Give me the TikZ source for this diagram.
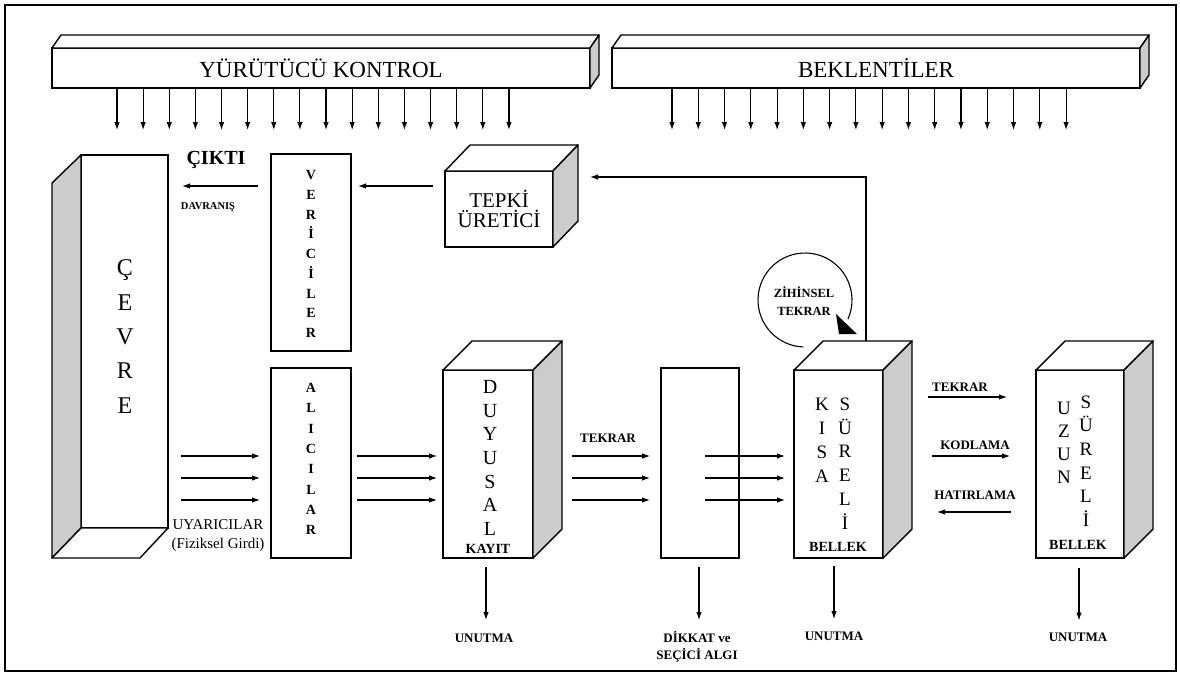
\documentclass[tikz,border=0pt]{standalone}
\usepackage{fontspec}
\setmainfont{Liberation Serif}
\usetikzlibrary{arrows.meta,calc}
\begin{document}
\begin{tikzpicture}[x=1pt,y=-1pt,>={Latex[length=8pt,width=5.5pt]},
  kutu/.style={draw,line width=1.4pt,inner sep=0pt,outer sep=0pt},
  yan/.style={draw,line width=1.4pt,fill=gray!40,line join=round},
  ust/.style={draw,line width=1.4pt,fill=white,line join=round},
  ok/.style={->,line width=1.1pt},
  etiket/.style={font=\bfseries\fontsize{13}{17}\selectfont,inner sep=0pt,align=center},
  harf/.style={align=center,inner sep=0pt}]
\useasboundingbox (0,0) rectangle (1180,675);
\draw[line width=1.6pt] (5,5) rectangle (1176,671);
% ust cubuklar
\node[kutu,minimum width=538pt,minimum height=40pt,font=\fontsize{23}{26}\selectfont] (yk) at (321,68) {YÜRÜTÜCÜ KONTROL};
\node[kutu,minimum width=528pt,minimum height=40pt,font=\fontsize{23}{26}\selectfont] (bek) at (876,68) {BEKLENTİLER};
\foreach \b/\w in {yk/538,bek/528}{
  \draw[ust] (\b.north west) -- ++(9,-13) -- ++(\w,0) -- (\b.north east) -- cycle;
  \draw[yan] (\b.north east) -- ++(9,-13) -- ++(0,40) -- (\b.south east) -- cycle;
}
\foreach \i in {0,...,15}{
  \draw[ok] (yk.south west) ++(65+26.13*\i,0) -- ++(0,42);
  \draw[ok] (bek.south west) ++(60+26.27*\i,0) -- ++(0,42);
}
% cevre
\node[kutu,minimum width=87pt,minimum height=373pt] (cevre) at (124.5,341.5) {};
\draw[yan] (cevre.north west) -- ++(-29,28) -- ++(0,375) -- (cevre.south west) -- cycle;
\draw[ust] (cevre.south west) -- ++(-29,30) -- ++(88,0) -- (cevre.south east) -- cycle;
\node[harf,font=\fontsize{24}{34.3}\selectfont] (cevretxt) at (125,336.5) {Ç\\E\\V\\R\\E};
% vericiler, alicilar
\node[kutu,minimum width=80pt,minimum height=197pt] (veri) at (311,252.5) {};
\node[harf,font=\bfseries\fontsize{14}{19.75}\selectfont] (veritxt) at (311,254) {V\\E\\R\\İ\\C\\İ\\L\\E\\R};
\node[kutu,minimum width=80pt,minimum height=190pt] (alici) at (311,463) {};
\node[harf,font=\bfseries\fontsize{14}{20.3}\selectfont] (alicitxt) at (311,459) {A\\L\\I\\C\\I\\L\\A\\R};
% tepki uretici
\node[kutu,minimum width=108pt,minimum height=76pt,align=center,font=\fontsize{21}{20}\selectfont] (tepki) at (499,209) {TEPKİ\\ÜRETİCİ};
\draw[ust] (tepki.north west) -- ++(25,-26) -- ++(108,0) -- (tepki.north east) -- cycle;
\draw[yan] (tepki.north east) -- ++(25,-26) -- ++(0,76) -- (tepki.south east) -- cycle;
% bellek kutulari
\node[kutu,minimum width=90pt,minimum height=188pt] (duyu) at (488,464) {};
\node[kutu,minimum width=78pt,minimum height=190pt] (dikkat) at (700,463) {};
\node[kutu,minimum width=89pt,minimum height=188pt] (kisa) at (838.5,464) {};
\node[kutu,minimum width=88pt,minimum height=188pt] (uzun) at (1080,464) {};
\foreach \b/\w in {duyu/90,kisa/89,uzun/88}{
  \draw[ust] (\b.north west) -- ++(29,-29) -- ++(\w,0) -- (\b.north east) -- cycle;
  \draw[yan] (\b.north east) -- ++(29,-29) -- ++(0,188) -- (\b.south east) -- cycle;
}
\node[harf,font=\fontsize{20}{23.7}\selectfont] (duyutxt) at (490,458) {D\\U\\Y\\U\\S\\A\\L};
\node[etiket,font=\bfseries\fontsize{14}{16}\selectfont] (kayit) at (488,549) {KAYIT};
\node[harf,font=\fontsize{19}{24}\selectfont] (kisatxt) at (822,440) {K\\I\\S\\A};
\node[harf,font=\fontsize{19}{23.8}\selectfont] (suretxt) at (845,463.5) {S\\Ü\\R\\E\\L\\İ};
\node[etiket,font=\bfseries\fontsize{14}{16}\selectfont] (bellek1) at (838,547) {BELLEK};
\node[harf,font=\fontsize{19}{23}\selectfont] (uzuntxt) at (1064,442.5) {U\\Z\\U\\N};
\node[harf,font=\fontsize{19}{23.6}\selectfont] (sure2txt) at (1086,461) {S\\Ü\\R\\E\\L\\İ};
\node[etiket,font=\bfseries\fontsize{14}{16}\selectfont] (bellek2) at (1078,545) {BELLEK};
% cikti
\node[font=\bfseries\fontsize{20}{20}\selectfont,inner sep=0pt] (cikti) at (216,160) {ÇIKTI};
\node[etiket,font=\bfseries\fontsize{10.5}{12}\selectfont] (davr) at (208,207) {DAVRANIŞ};
\draw[ok] ($(veri.west|-0,186)+(-13,0)$) -- ($(cevre.east|-0,186)+(14,0)$);
\draw[ok] ($(tepki.west|-0,186)+(-12,0)$) -- ($(veri.east|-0,186)+(7,0)$);
% girdi oklari
\node[harf,font=\fontsize{15}{19}\selectfont] (uyar) at (218,536) {UYARICILAR\\(Fiziksel Girdi)};
\node[etiket] (tekr1) at (608,438) {TEKRAR};
\foreach \y in {456,478,500}{
  \draw[ok] ($(cevre.east|-0,\y)+(13,0)$) -- ($(alici.west|-0,\y)+(-11,0)$);
  \draw[ok] ($(alici.east|-0,\y)+(6,0)$) -- ($(duyu.west|-0,\y)+(-6,0)$);
  \draw[ok] ($(duyu.east|-0,\y)+(39,0)$) -- ($(dikkat.west|-0,\y)+(-11,0)$);
  \draw[ok] ($(dikkat.west|-0,\y)+(44,0)$) -- ($(kisa.west|-0,\y)+(-9,0)$);
}
% kisa - uzun
\node[etiket] (tekr3) at (960,387) {TEKRAR};
\node[etiket] (kodl) at (975,445) {KODLAMA};
\node[etiket] (hatir) at (975,495) {HATIRLAMA};
\draw[ok] ($(kisa.east|-0,397)+(45,0)$) -- ($(uzun.west|-0,397)+(-29,0)$);
\draw[ok] ($(kisa.east|-0,456)+(49,0)$) -- ($(uzun.west|-0,456)+(-26,0)$);
\draw[ok] ($(uzun.west|-0,512)+(-25,0)$) -- ($(kisa.east|-0,512)+(54,0)$);
% zihinsel tekrar
\node[etiket,font=\bfseries\fontsize{12.5}{18}\selectfont] (zih) at (804,301) {ZİHİNSEL\\TEKRAR};
\draw[line width=1.1pt] (805,300) ++(92:47) arc[start angle=92,end angle=384,radius=47];
\fill (836,314) -- (857,334) -- (839,334) -- cycle;
% geri besleme
\coordinate (fb) at (866,341);
\draw[ok] (fb) |- ($(tepki.east)+(37,-32)$);
% unutma
\draw[ok] ($(duyu.south)+(-2,9)$) -- ++(0,53);
\draw[ok] ($(dikkat.south)+(-1,9)$) -- ++(0,53);
\draw[ok] ($(kisa.south)+(-4.5,8)$) -- ++(0,53);
\draw[ok] ($(uzun.south)+(-1,9.5)$) -- ++(0,53);
\node[etiket] (unut1) at (484,638) {UNUTMA};
\node[etiket] (dsa) at (697,647) {DİKKAT ve\\SEÇİCİ ALGI};
\node[etiket] (unut2) at (834,636) {UNUTMA};
\node[etiket] (unut3) at (1078,637) {UNUTMA};
\end{tikzpicture}
\end{document}
